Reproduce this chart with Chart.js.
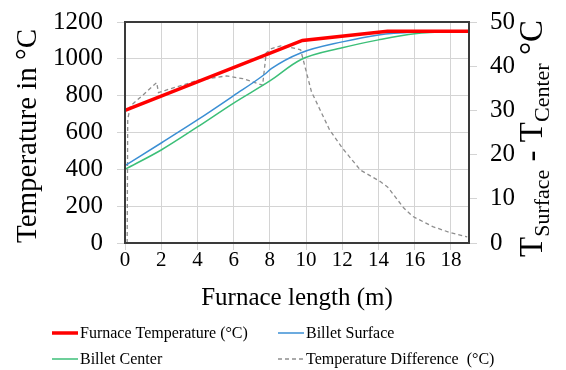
<!DOCTYPE html>
<html>
<head>
<meta charset="utf-8">
<script src="https://cdn.jsdelivr.net/npm/chart.js@4.4.0/dist/chart.umd.min.js"></script>
<style>
  html, body { margin: 0; padding: 0; background: #fff; }
  #wrap { width: 566px; height: 370px; position: relative; }
</style>
</head>
<body>
<div id="wrap"><canvas id="furnaceChart" width="566" height="370"></canvas></div>
<script>
  // values
  const furnaceX = [0, 9.8, 14.5, 19];
  const furnaceY = [720, 1100, 1150, 1150];

  const surfaceX = [0, 2, 4, 6, 7.7, 8.1, 9.7, 12, 14, 16, 19];
  const surfaceY = [420, 543, 668, 800, 915, 948, 1032, 1092, 1130, 1146, 1152];

  const centerX = [0, 2, 4, 6, 8, 9.7, 12, 14, 16, 19];
  const centerY = [400, 505, 630, 760, 880, 995, 1060, 1103, 1136, 1150];

  const diffX = [0.12, 0.15, 0.3, 1.0, 1.75, 1.85, 2.2, 3, 4.1, 5.6, 6.5, 7.6, 7.8, 8.1, 8.6, 9.0, 9.7,
                 10.3, 11.3, 12, 13, 14.1, 14.5, 15.4, 15.9, 17, 18, 18.9];
  const diffY = [0, 28, 31, 33.5, 36.3, 34, 34.5, 35.5, 36.9, 37.8, 37.2, 35.7, 43, 44, 44.6, 44.4, 43.7,
                 34.2, 25.6, 21.5, 16.5, 13.9, 12.7, 7.9, 6.0, 3.7, 2.3, 1.4];

  const seriesLabels = ['Furnace Temperature (°C)', 'Billet Surface', 'Billet Center', 'Temperature Difference  (°C)'];
  const xTicks = [0, 2, 4, 6, 8, 10, 12, 14, 16, 18];

  const SERIF = "'Liberation Serif', 'Times New Roman', serif";
  Chart.defaults.font.family = SERIF;

  function pairs(xs, ys) {
    return xs.map((x, i) => ({ x, y: ys[i] }));
  }

  // box, axis titles and the two-column legend
  const decorations = {
    id: 'decorations',
    afterDraw(chart) {
      const ctx = chart.ctx;
      const a = chart.chartArea;
      ctx.save();

      ctx.strokeStyle = '#3a3a3a';
      ctx.lineWidth = 2;
      ctx.strokeRect(a.left, a.top, a.right - a.left, a.bottom - a.top);

      ctx.fillStyle = '#000';
      ctx.font = '25px ' + SERIF;
      ctx.textAlign = 'center';
      ctx.textBaseline = 'middle';
      ctx.fillText('Furnace length (m)', 297, 298);

      ctx.save();
      ctx.translate(28, 136);
      ctx.rotate(-Math.PI / 2);
      ctx.font = '29px ' + SERIF;
      ctx.fillText('Temperature in °C', 0, 0);
      ctx.restore();

      // right title with subscripts
      ctx.save();
      ctx.translate(542, 257);
      ctx.rotate(-Math.PI / 2);
      ctx.textAlign = 'left';
      ctx.textBaseline = 'alphabetic';
      const parts = [
        ['T', 33, 0], ['Surface', 22, 7], [' - ', 33, 0],
        ['T', 33, 0], ['Center', 22, 7], [' °C', 33, 0]
      ];
      let px = 0;
      parts.forEach(([t, size, dy]) => {
        ctx.font = size + 'px ' + SERIF;
        ctx.fillText(t, px, dy);
        px += ctx.measureText(t).width;
      });
      ctx.restore();

      // legend
      ctx.font = '16px ' + SERIF;
      ctx.textAlign = 'left';
      ctx.textBaseline = 'middle';
      const spots = [[52, 333], [278, 333], [52, 359], [278, 359]];
      chart.data.datasets.forEach((ds, i) => {
        const [lx, ly] = spots[i];
        ctx.save();
        ctx.strokeStyle = ds.borderColor;
        ctx.lineWidth = ds.borderWidth;
        ctx.setLineDash(ds.borderDash || []);
        ctx.beginPath();
        ctx.moveTo(lx, ly);
        ctx.lineTo(lx + 26, ly);
        ctx.stroke();
        ctx.restore();
        ctx.fillStyle = '#000';
        ctx.fillText(ds.label, lx + 28, ly + 1);
      });

      ctx.restore();
    }
  };

  const gridGray = '#d4d4d4';
  const plain = v => String(v);

  new Chart(document.getElementById('furnaceChart'), {
    type: 'line',
    data: {
      datasets: [
        {
          label: seriesLabels[0],
          data: pairs(furnaceX, furnaceY),
          borderColor: '#ff0000',
          borderWidth: 3.5,
          yAxisID: 'y',
          order: 0,
        },
        {
          label: seriesLabels[1],
          data: pairs(surfaceX, surfaceY),
          borderColor: '#3b8fd4',
          borderWidth: 1.5,
          cubicInterpolationMode: 'monotone',
          yAxisID: 'y',
          order: 1,
        },
        {
          label: seriesLabels[2],
          data: pairs(centerX, centerY),
          borderColor: '#3cbf78',
          borderWidth: 1.5,
          cubicInterpolationMode: 'monotone',
          yAxisID: 'y',
          order: 2,
        },
        {
          label: seriesLabels[3],
          data: pairs(diffX, diffY),
          borderColor: '#8e8e8e',
          borderWidth: 1.3,
          borderDash: [4, 3],
          yAxisID: 'y1',
          order: 3,
        },
      ],
    },
    options: {
      responsive: false,
      animation: false,
      layout: { padding: { top: 15, left: 0, right: 0, bottom: 0 } },
      elements: { point: { radius: 0 }, line: { tension: 0, fill: false } },
      plugins: { legend: { display: false }, tooltip: { enabled: false } },
      scales: {
        x: {
          type: 'linear',
          min: 0,
          max: 19,
          afterFit(s) { s.height = 127; },
          afterBuildTicks(s) { s.ticks = xTicks.map(v => ({ value: v })); },
          grid: { color: gridGray, tickLength: 7 },
          border: { display: false },
          ticks: { color: '#000', padding: -2, callback: plain, font: { family: SERIF, size: 21 } },
        },
        y: {
          position: 'left',
          min: 0,
          max: 1200,
          afterFit(s) { s.width = 125; },
          grid: { color: gridGray, tickLength: 8 },
          border: { display: false },
          ticks: { stepSize: 200, color: '#000', padding: 14, callback: plain,
                   font: { family: SERIF, size: 25, lineHeight: 0.64 } },
        },
        y1: {
          position: 'right',
          min: 0,
          max: 50,
          afterFit(s) { s.width = 97; },
          grid: { color: gridGray, tickLength: 8, drawOnChartArea: false },
          border: { display: false },
          ticks: { stepSize: 10, color: '#000', padding: 13, callback: plain,
                   font: { family: SERIF, size: 25, lineHeight: 0.64 } },
        },
      },
    },
    plugins: [decorations],
  });
</script>
</body>
</html>
